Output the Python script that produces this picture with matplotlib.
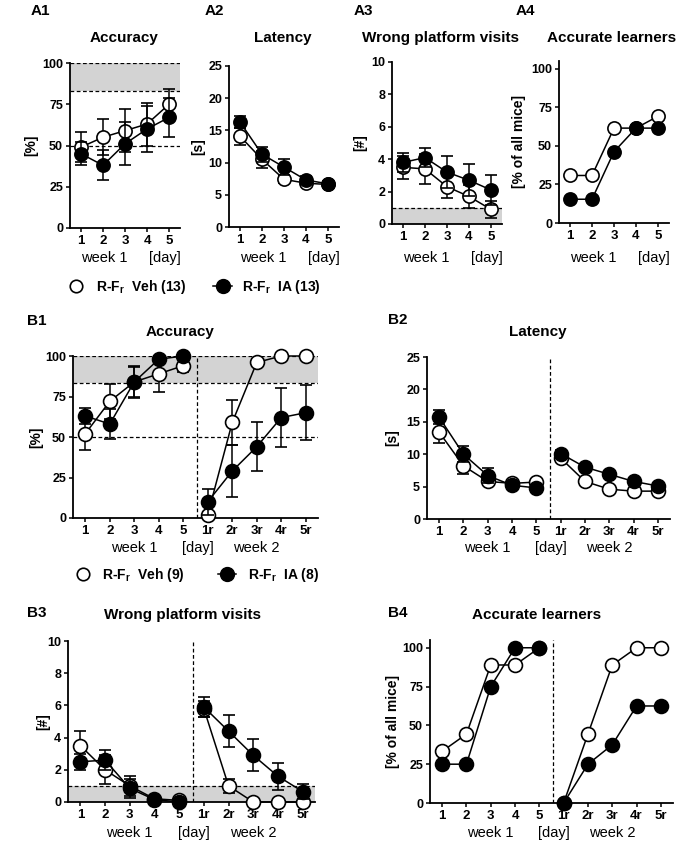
import matplotlib
matplotlib.use("Agg")
import matplotlib.pyplot as plt
from matplotlib.lines import Line2D
from matplotlib import transforms

W, H = 679, 842

plt.rcParams['font.family'] = ['Liberation Sans', 'DejaVu Sans']
plt.rcParams['mathtext.fontset'] = 'custom'
plt.rcParams['mathtext.rm'] = 'Liberation Sans'
plt.rcParams['mathtext.bf'] = 'Liberation Sans:bold'

# ---- data: week 1 (A, n=13 per group) ----
days_a = [1, 2, 3, 4, 5]
days_a_labels = ["1", "2", "3", "4", "5"]

a_acc_veh = [49, 55, 59, 63, 75]
a_acc_veh_sem = [9, 11, 13, 13, 9]
a_acc_ia = [45, 38, 51, 60, 67]
a_acc_ia_sem = [7, 9, 13, 14, 12]

a_lat_veh = [14.1, 10.5, 7.4, 6.8, 6.6]
a_lat_veh_sem = [1.3, 1.3, 0.6, 0.5, 0.4]
a_lat_ia = [16.3, 11.3, 9.3, 7.3, 6.7]
a_lat_ia_sem = [0.9, 1.2, 1.3, 0.6, 0.5]

a_wpv_veh = [3.5, 3.4, 2.3, 1.7, 0.9]
a_wpv_veh_sem = [0.7, 0.9, 0.7, 0.7, 0.5]
a_wpv_ia = [3.8, 4.1, 3.2, 2.7, 2.1]
a_wpv_ia_sem = [0.6, 0.6, 1.0, 1.0, 0.9]

a_learn_veh = [30.8, 30.8, 61.5, 61.5, 69.2]
a_learn_ia = [15.4, 15.4, 46.2, 61.5, 61.5]

# ---- data: week 1 + reversal week 2 (B, Veh n=9, IA n=8) ----
days_b = [1, 2, 3, 4, 5, 6, 7, 8, 9, 10]
days_b_labels = ["1", "2", "3", "4", "5", "1r", "2r", "3r", "4r", "5r"]

b_acc_veh = [52, 72, 84, 89, 94, 2, 59, 96, 100, 100]
b_acc_veh_sem = [10, 11, 9, 11, 4, 2, 14, 2, 0, 0]
b_acc_ia = [63, 58, 84, 98, 100, 10, 29, 44, 62, 65]
b_acc_ia_sem = [5, 9, 10, 2, 0, 8, 16, 15, 18, 17]

b_lat_veh = [13.4, 8.2, 5.8, 5.5, 5.7, 9.4, 5.8, 4.6, 4.3, 4.3]
b_lat_veh_sem = [1.7, 1.3, 0.5, 0.4, 0.4, 0.5, 0.4, 0.3, 0.3, 0.3]
b_lat_ia = [15.7, 10.0, 6.7, 5.2, 4.8, 10.1, 8.0, 6.9, 5.8, 5.1]
b_lat_ia_sem = [1.1, 1.2, 1.2, 0.4, 0.4, 0.5, 0.5, 0.4, 0.4, 0.4]

b_wpv_veh = [3.5, 2.0, 1.0, 0.2, 0.1, 5.8, 1.0, 0.0, 0.0, 0.0]
b_wpv_veh_sem = [0.9, 0.9, 0.6, 0.1, 0.1, 0.5, 0.45, 0, 0, 0]
b_wpv_ia = [2.5, 2.6, 0.85, 0.15, 0.0, 5.9, 4.4, 2.9, 1.6, 0.65]
b_wpv_ia_sem = [0.5, 0.6, 0.6, 0.1, 0, 0.6, 1.0, 1.0, 0.85, 0.45]

b_learn_veh = [33.3, 44.4, 88.9, 88.9, 100, 0, 44.4, 88.9, 100, 100]
b_learn_ia = [25, 25, 75, 100, 100, 0, 25, 37.5, 62.5, 62.5]

GRAY = '#d3d3d3'
DASH = (0, (3, 2))


def px_axes(fig, left, top, right, bottom):
    return fig.add_axes([left / W, 1 - bottom / H, (right - left) / W, (bottom - top) / H])


def ftext(fig, x, y, s, **kw):
    fig.text(x / W, 1 - y / H, s, **kw)


def style_axes(ax, ylim, yticks, xlim, xticks, xlabels):
    for side in ['top', 'right']:
        ax.spines[side].set_visible(False)
    for side in ['left', 'bottom']:
        ax.spines[side].set_linewidth(1.3)
    ax.set_xlim(*xlim)
    ax.set_ylim(*ylim)
    ax.set_yticks(yticks)
    ax.set_yticklabels([str(t) for t in yticks], fontsize=9, fontweight='bold')
    ax.set_xticks(xticks)
    ax.set_xticklabels(xlabels, fontsize=9.5, fontweight='bold')
    ax.tick_params(direction='out', length=3, width=1.1, pad=2)
    ax.patch.set_alpha(0)


def draw_series(ax, x, y, err, filled, segments, ms):
    for a, b in segments:
        kw = dict(fmt='-o', color='black', mec='black', mfc='black' if filled else 'white',
                  ms=ms, mew=1.2, lw=1.1, clip_on=False, zorder=4 if filled else 3)
        if err is not None:
            ax.errorbar(x[a:b], y[a:b], yerr=err[a:b], capsize=4.5, elinewidth=1.1,
                        capthick=1.1, **kw)
        else:
            ax.errorbar(x[a:b], y[a:b], **kw)


def week_labels(fig, ax, items, ypx):
    tr = transforms.blended_transform_factory(ax.transData, fig.transFigure)
    for xv, s in items:
        ax.text(xv, 1 - ypx / H, s, transform=tr, ha='center', va='center', fontsize=10.5)


def legend_entry(fig, x0, y, filled, label, hl, pad, ms):
    if filled:
        h = Line2D([], [], color='black', marker='o', mfc='black', mec='black', ms=ms, lw=1.1)
    else:
        h = Line2D([], [], color='black', marker='o', mfc='white', mec='black', ms=ms, mew=1.2,
                   ls='none')
    fig.legend(handles=[h], labels=[label], loc='center left',
               bbox_to_anchor=(x0 / W, 1 - y / H), frameon=False,
               prop={'size': 10, 'weight': 'bold'}, handlelength=hl, handletextpad=pad,
               borderpad=0, borderaxespad=0)


def main():
    fig = plt.figure(figsize=(W / 100, H / 100), dpi=100)
    fig.patch.set_facecolor('white')

    seg_a = [(0, 5)]
    seg_b = [(0, 5), (5, 10)]
    xlim_a = (0.5, 5.5)
    xlim_b = (0.5, 10.5)

    # ---------- A panels ----------
    a_specs = [
        ("A1", "Accuracy", "[%]", (70, 63, 180, 228), (0, 100), [0, 25, 50, 75, 100],
         a_acc_veh, a_acc_veh_sem, a_acc_ia, a_acc_ia_sem, 31, 124, 31),
        ("A2", "Latency", "[s]", (229, 66, 339, 227), (0, 25), [0, 5, 10, 15, 20, 25],
         a_lat_veh, a_lat_veh_sem, a_lat_ia, a_lat_ia_sem, 205, 283, 198),
        ("A3", "Wrong platform visits", "[#]", (392, 62, 502, 224), (0, 10), [0, 2, 4, 6, 8, 10],
         a_wpv_veh, a_wpv_veh_sem, a_wpv_ia, a_wpv_ia_sem, 354, 441, 360),
        ("A4", "Accurate learners", "[% of all mice]", (559, 61, 669, 223), (0, 105),
         [0, 25, 50, 75, 100], a_learn_veh, None, a_learn_ia, None, 516, 612, 519),
    ]
    for (tag, title, ylab, box, ylim, yt, veh, veh_e, ia, ia_e, tagx, titx, ylx) in a_specs:
        ax = px_axes(fig, *box)
        style_axes(ax, ylim, yt, xlim_a, days_a, days_a_labels)
        if tag == "A1":
            ax.axhspan(83.3, 100, color=GRAY, lw=0, zorder=0)
            for yv in [50, 83.3, 100]:
                ax.axhline(yv, color='black', ls=DASH, lw=0.9, zorder=1)
        if tag == "A3":
            ax.axhspan(0, 1, color=GRAY, lw=0, zorder=0)
            ax.axhline(1, color='black', ls=DASH, lw=0.9, zorder=1)
        draw_series(ax, days_a, veh, veh_e, False, seg_a, 9.5)
        draw_series(ax, days_a, ia, ia_e, True, seg_a, 9.5)
        ftext(fig, tagx, 11, tag, fontsize=11, fontweight='bold', ha='left', va='center')
        ftext(fig, titx, 38, title, fontsize=11, fontweight='bold', ha='center', va='center')
        ftext(fig, ylx, (box[1] + box[3]) / 2, ylab, fontsize=10, fontweight='bold',
              rotation=90, ha='center', va='center')
        week_labels(fig, ax, [(2.05, "week 1"), (4.82, "[day]")], 258)

    legend_entry(fig, 67, 287, False, r"R-F$_\mathbf{r}$  Veh (13)", 1.3, 0.8, 9)
    legend_entry(fig, 213, 287, True, r"R-F$_\mathbf{r}$  IA (13)", 1.4, 0.7, 10)

    # ---------- B panels ----------
    b_specs = [
        ("B1", "Accuracy", "[%]", (73, 356, 318, 518), (0, 100), [0, 25, 50, 75, 100],
         b_acc_veh, b_acc_veh_sem, b_acc_ia, b_acc_ia_sem, 27, 321, 180, 332, 36, 548),
        ("B2", "Latency", "[s]", (427, 357, 670, 519), (0, 25), [0, 5, 10, 15, 20, 25],
         b_lat_veh, b_lat_veh_sem, b_lat_ia, b_lat_ia_sem, 388, 320, 538, 332, 392, 548),
        ("B3", "Wrong platform visits", "[#]", (68, 641, 315, 802), (0, 10), [0, 2, 4, 6, 8, 10],
         b_wpv_veh, b_wpv_veh_sem, b_wpv_ia, b_wpv_ia_sem, 27, 613, 182, 615, 43, 833),
        ("B4", "Accurate learners", "[% of all mice]", (430, 640, 673, 803), (0, 105),
         [0, 25, 50, 75, 100], b_learn_veh, None, b_learn_ia, None, 388, 613, 537, 615, 393, 833),
    ]
    for (tag, title, ylab, box, ylim, yt, veh, veh_e, ia, ia_e,
         tagx, tagy, titx, tity, ylx, wky) in b_specs:
        ax = px_axes(fig, *box)
        style_axes(ax, ylim, yt, xlim_b, days_b, days_b_labels)
        if tag == "B1":
            ax.axhspan(83.3, 100, color=GRAY, lw=0, zorder=0)
            for yv in [50, 83.3, 100]:
                ax.axhline(yv, color='black', ls=DASH, lw=0.9, zorder=1)
        if tag == "B3":
            ax.axhspan(0, 1, color=GRAY, lw=0, zorder=0)
            ax.axhline(1, color='black', ls=DASH, lw=0.9, zorder=1)
        ax.axvline(5.55, color='black', ls=DASH, lw=0.9, zorder=1)
        draw_series(ax, days_b, veh, veh_e, False, seg_b, 10)
        draw_series(ax, days_b, ia, ia_e, True, seg_b, 10)
        ftext(fig, tagx, tagy, tag, fontsize=11, fontweight='bold', ha='left', va='center')
        ftext(fig, titx, tity, title, fontsize=11, fontweight='bold', ha='center', va='center')
        ftext(fig, ylx, (box[1] + box[3]) / 2, ylab, fontsize=10, fontweight='bold',
              rotation=90, ha='center', va='center')
        week_labels(fig, ax, [(3.0, "week 1"), (5.6, "[day]"), (8.0, "week 2")], wky)

    legend_entry(fig, 74, 575, False, r"R-F$_\mathbf{r}$  Veh (9)", 1.3, 0.7, 9)
    legend_entry(fig, 218, 575, True, r"R-F$_\mathbf{r}$  IA (8)", 1.3, 0.85, 10)

    fig.savefig("out.png", dpi=100)


if __name__ == "__main__":
    main()
